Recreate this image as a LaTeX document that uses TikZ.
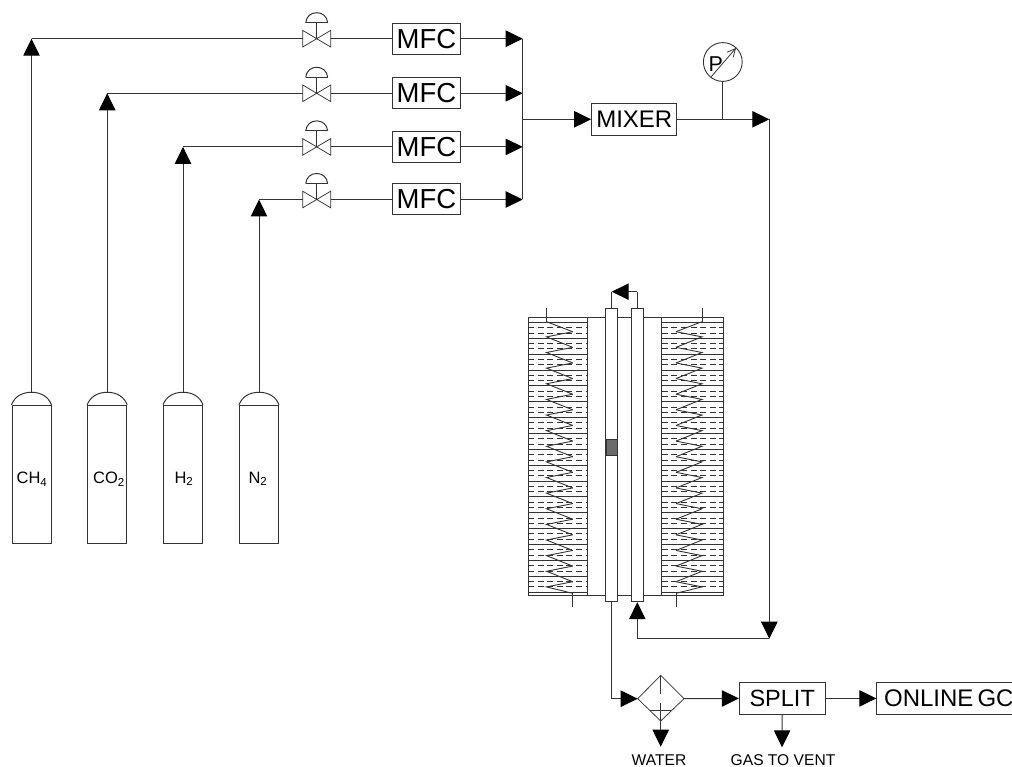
\documentclass[tikz,border=0pt]{standalone}
\usepackage{fontspec}
\setmainfont{Liberation Sans}
\usetikzlibrary{arrows.meta}
\definecolor{ink}{gray}{0.2}
\newcommand{\fs}[1]{\fontsize{#1}{#1}\selectfont}
\tikzset{
  pipe/.style={draw=ink,line width=1pt},
  tri/.style={pipe,-{Triangle[length=17pt,width=16.4pt,fill=black,color=black]}},
  box/.style={draw=ink,line width=1pt,rectangle,inner sep=0pt,fill=white,text=black},
  mfcbox/.style={box,minimum width=68.4pt,minimum height=31pt,font=\fs{27.5}},
  unitbox/.style={box,minimum height=31.5pt,font=\fs{24}},
  tank/.style={box,minimum width=39pt,minimum height=138pt},
  tanktext/.style={inner sep=0pt,font=\fs{16.5},text=black},
  tubebox/.style={box,minimum width=11.7pt,minimum height=293.4pt},
  dashrow/.style={draw=ink,line width=0.9pt,dash pattern=on 6pt off 3.6pt},
  coil/.style={draw=ink,line width=0.9pt,line join=miter},
  thin pipe/.style={draw=ink,line width=0.75pt},
  tag/.style={inner sep=0pt,font=\fs{15.6},text=black},
}
\begin{document}
\begin{tikzpicture}[x=1pt,y=-1pt]
\useasboundingbox (0,0) rectangle (1012,767);
% ---- cylinders
\foreach \n/\cx/\lab/\lx in {a/31.5/CH\textsubscript{4}/32,b/107.2/CO\textsubscript{2}/109,c/183/H\textsubscript{2}/184,d/259/N\textsubscript{2}/258}{
  \node[tank] (tank\n) at (\cx,474.3) {};
  \node[tanktext] (label\n) at (\lx,479) {\lab};
  \coordinate (neck\n) at (\cx,392.3);
  \draw[pipe] (tank\n.north west) .. controls (\cx-17,397) and (\cx-10,392.3) .. (neck\n)
     .. controls (\cx+10,392.3) and (\cx+17,397) .. (tank\n.north east);
}
% ---- rows
\foreach \n/\ry in {a/38.7,b/93.3,c/146.9,d/199.5}{
  \node[mfcbox] (mfc\n) at (426.5,\ry) {MFC};
  \coordinate (valve\n) at (316.7,\ry);
  \coordinate (vl\n) at (302.7,\ry);
  \coordinate (vr\n) at (330.7,\ry);
  \coordinate (bus\n) at (522.7,\ry);
  \draw[pipe] (vr\n) -- (mfc\n.west);
  \draw[tri] (mfc\n.east) -- (bus\n);
  \draw[thin pipe] (302.7,\ry-8.3) -- (330.7,\ry+8.3) -- (330.7,\ry-8.3) -- (302.7,\ry+8.3) -- cycle;
  \draw[pipe] (valve\n) -- ++(0,-16);
  \draw[pipe] (305.7,\ry-16) -- (327.7,\ry-16);
  \draw[pipe] (305.7,\ry-16) .. controls (306.5,\ry-22.5) and (311,\ry-26) .. (316.7,\ry-26)
     .. controls (322.4,\ry-26) and (326.9,\ry-22.5) .. (327.7,\ry-16);
}
\foreach \n in {a,b,c,d}{
  \draw[tri] (neck\n) -- (neck\n|-vl\n);
  \draw[pipe] (neck\n|-vl\n) -- (vl\n);
}
\draw[pipe] (busa) -- (busd);
% ---- mixer
\node[unitbox,minimum width=85.3pt] (mixer) at (634.3,119.3) {MIXER};
\coordinate (busm) at (522.7,119.3);
\draw[tri] (busm) -- (mixer.west);
\coordinate (corner) at (769.3,119.3);
\draw[tri] (mixer.east) -- (corner);
% ---- gauge
\node[draw=ink,line width=0.9pt,circle,minimum size=38.8pt,inner sep=0pt] (gauge) at (722.8,62) {};
\coordinate (gtap) at (722.8,119.3);
\draw[pipe] (gauge.south) -- (gtap);
\node[inner sep=0pt,font=\fs{21.5},text=black] (ptext) at (715.8,64.4) {P};
\coordinate (g1) at (711,77);
\coordinate (g2) at (736,48);
\draw[draw=ink,line width=0.8pt,-{Straight Barb[length=8pt,width=8pt]}] (g1) -- (g2);
% ---- reactor jackets
\foreach \xa/\xb in {528/587.7,661.7/723.3}{
  \foreach \k in {0,...,16}{
    \pgfmathsetmacro{\yy}{322.4+15.87*\k}
    \draw[pipe] (\xa,\yy) -- (\xb,\yy);
    \draw[dashrow] (\xa,\yy+5.2) -- (\xb,\yy+5.2);
    \draw[dashrow] (\xa,\yy+10.6) -- (\xb,\yy+10.6);
  }
  \draw[pipe] (\xa,317.7) rectangle (\xb,595);
  \draw[pipe] (\xa,592.2) -- (\xb,592.2);
}
% top and bottom plates
\coordinate (plateTL) at (587.7,317.7); \coordinate (plateTR) at (661.7,317.7);
\coordinate (plateBL) at (587.7,595); \coordinate (plateBR) at (661.7,595);
\draw[pipe] (plateTL) -- (plateTR);
\draw[pipe] (plateBL) -- (plateBR);
% coils
\foreach \xa/\xb in {546.5/572.7,702/676}{
  \draw[pipe] (\xa,308) -- (\xa,321.7);
  \draw[coil] (\xa,321.7) -- (\xb,331.7);
  \foreach \k in {0,...,15}{
    \pgfmathsetmacro{\ya}{331.7+15.625*\k}
    \pgfmathsetmacro{\yb}{336.9+15.625*\k}
    \pgfmathsetmacro{\yc}{347.325+15.625*\k}
    \draw[coil] (\xb,\ya) -- (\xa,\yb) -- (\xb,\yc);
  }
  \draw[coil] (\xb,581.7) -- (\xa,586.9) -- (\xb,593.3);
  \draw[pipe] (\xb,593.3) -- (\xb,607);
}
% tubes
\node[tubebox] (tubeL) at (611.7,455) {};
\node[tubebox] (tubeR) at (637.3,455) {};
\fill[black!58,draw=ink,line width=0.6pt] (606,439) rectangle (617.5,455.3);
% loop
\coordinate (loopR) at (637.3,291.7);
\coordinate (loopL) at (611.7,291.7);
\draw[pipe] (tubeR.north) -- (loopR);
\draw[tri] (loopR) -- (loopL);
\draw[pipe] (loopL) -- (tubeL.north);
% return
\coordinate (retR) at (769.3,638.7);
\coordinate (retL) at (637.3,638.7);
\draw[tri] (corner) -- (retR);
\draw[pipe] (retR) -- (retL);
\draw[tri] (retL) -- (tubeR.south);
% ---- filter
\coordinate (ft) at (660.7,675.3);
\coordinate (fb) at (660.7,721);
\coordinate (fl) at (637.7,698.7);
\coordinate (fr) at (684,698.7);
\draw[thin pipe] (fl) -- (ft) -- (fr) -- (fb) -- cycle;
\draw[thin pipe] (ft) -- (660.7,694) (660.7,703) -- (fb);
\draw[thin pipe] (650,710) -- (671.4,710);
\coordinate (oelbow) at (611.7,698.7);
\draw[pipe] (tubeL.south) -- (oelbow);
\draw[tri] (oelbow) -- (fl);
\node[unitbox,minimum width=85.7pt,font=\fs{23.5}] (split) at (782.2,698.4) {SPLIT};
\draw[tri] (fr) -- (split.west);
\node[unitbox,minimum width=144pt] (gc) at (948.8,698.4) {ONLINE\hspace{0.17em}GC};
\draw[tri] (split.east) -- (gc.west);
\node[tag] (water) at (659,760) {WATER};
\node[tag] (vent) at (783,760) {GAS TO VENT};
\coordinate (wtip) at (660.7,746.7);
\coordinate (vtip) at (782,747.3);
\draw[tri] (fb) -- (wtip);
\draw[tri] (split.south) -- (vtip);
\end{tikzpicture}
\end{document}
